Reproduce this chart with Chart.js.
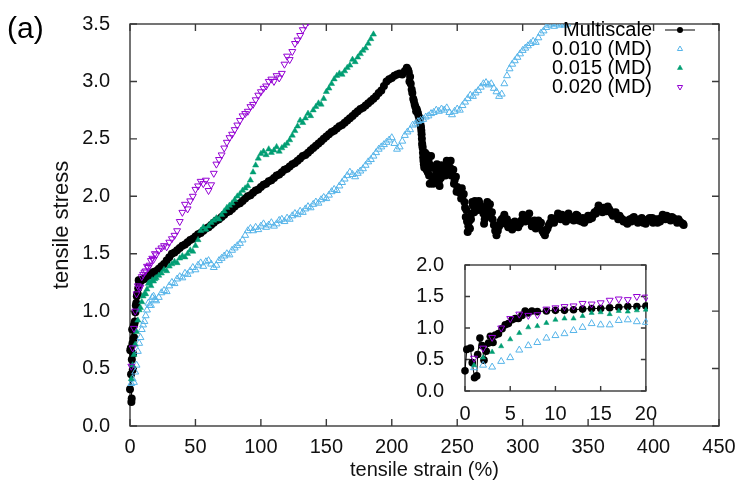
<!DOCTYPE html>
<html>
<head>
<meta charset="utf-8">
<script src="https://cdn.jsdelivr.net/npm/chart.js@4.4.1/dist/chart.umd.min.js"></script>
<style>
  body { margin: 0; background: #fff; }
  #wrap { position: relative; width: 737px; height: 492px; }
  #main { position: absolute; left: 0; top: 0; }
  #inset { position: absolute; left: 400px; top: 240px; }
</style>
</head>
<body>
<div id="wrap">
  <canvas id="main" width="737" height="492"></canvas>
  <canvas id="inset" width="260" height="200"></canvas>
</div>
<script>
// ---- data ----
const seriesLabels = ['Multiscale', '0.010 (MD)', '0.015 (MD)', '0.020 (MD)'];

const mainStrainTicks = [0, 50, 100, 150, 200, 250, 300, 350, 400, 450];
const mainStressTicks = [0, 0.5, 1, 1.5, 2, 2.5, 3, 3.5];
const insetStrainTicks = [0, 5, 10, 15, 20];
const insetStressTicks = [0, 0.5, 1, 1.5, 2];

// multiscale: [strain %, stress]
const multiscale = [
  [0,0.32],[0.2,0.66],[0.6,0.68],[0.8,0.45],[1.05,0.21],[1.3,0.24],[1.4,0.58],[1.65,0.84],[1.9,0.72],[2.1,0.49],
  [2.35,0.63],[2.6,0.76],[2.8,0.87],[3.1,0.77],[3.35,0.89],[3.7,0.91],[4.1,0.99],[4.45,1.05],[4.8,1.07],[5.2,1.13],
  [5.55,1.15],[5.9,1.15],[6.3,1.2],[6.65,1.27],[7,1.24],[7.4,1.27],[8,1.26],[9,1.27],[10,1.28],[11,1.28],
  [12,1.29],[13,1.3],[14,1.31],[15,1.31],[16,1.32],[17,1.33],[18,1.34],[19,1.34],[20,1.35],
  [22,1.37],[24,1.39],[26,1.41],[28,1.44],[30,1.47],[32,1.5],[34,1.51],[36,1.53],[38,1.55],[40,1.57],
  [42,1.58],[44,1.6],[46,1.62],[48,1.63],[50,1.65],[52,1.67],[54,1.68],[56,1.7],[58,1.72],[60,1.73],
  [62,1.75],[64,1.77],[66,1.79],[68,1.8],[70,1.82],[72,1.84],[74,1.86],[76,1.87],[78,1.89],[80,1.91],
  [82,1.93],[84,1.94],[86,1.96],[88,1.98],[90,2],[92,2.01],[94,2.03],[96,2.05],[98,2.06],[100,2.08],
  [102,2.1],[104,2.11],[106,2.13],[108,2.14],[110,2.16],[112,2.18],[114,2.19],[116,2.21],[118,2.23],[120,2.24],
  [122,2.26],[124,2.28],[126,2.29],[128,2.31],[130,2.33],[132,2.35],[134,2.36],[136,2.38],[138,2.4],[140,2.42],
  [142,2.44],[144,2.46],[146,2.48],[148,2.5],[150,2.52],[152,2.54],[154,2.56],[156,2.57],[158,2.59],[160,2.61],
  [162,2.62],[164,2.64],[166,2.66],[168,2.68],[170,2.7],[172,2.72],[174,2.74],[176,2.76],[178,2.77],[180,2.79],
  [182,2.81],[184,2.83],[186,2.85],[188,2.87],[190,2.9],[192,2.92],[194,2.96],[196,3],[198,3.02],[200,3.03],
  [202,3.05],[204,3.06],[206,3.07],[208,3.06],[210,3.09],[211.5,3.12],
  [212.5,3.1],[213,3.08],[213.5,3],[214,3.04],[214.5,2.98],[215.2,2.93],[215.7,2.9],[216.4,2.85],[216.9,2.83],[217.5,2.8],
  [218,2.78],[218.6,2.74],[219,2.76],[219.5,2.74],[220,2.72],[220.5,2.7],[221,2.66],[221.5,2.68],[222,2.62],[222.3,2.6],
  [222.6,2.57],[222.8,2.54],[223,2.5],[223.2,2.46],[223.4,2.44],[223.6,2.42],[223.8,2.38],[224,2.34],[224.2,2.31],[224.5,2.28],
  [224.8,2.25],[225,2.33],[225.5,2.38],[226,2.29],[226.6,2.23],[227,2.36],[227.5,2.21],[228,2.3],[228.5,2.18],[229,2.11],
  [229.5,2.27],[230,2.35],[230.5,2.25],[231,2.16],[231.6,2.11],[232.3,2.14],[233,2.17],[233.5,2.24],[234,2.2],[234.5,2.28],
  [235,2.18],[236,2.13],[236.5,2.09],[237,2.2],[237.5,2.16],[238,2.27],[239,2.23],[240,2.2],[241,2.18],[241.5,2.25],
  [242,2.31],[243,2.27],[243.5,2.22],[244.5,2.25],[245,2.31],[245.5,2.18],[246,2.2],[247,2.23],[247.5,2.11],[248,2.14],
  [249,2.17],[249.5,2.04],[250,2.08],[251,2.06],[252,2.03],[253,1.98],[253.5,2.07],[254,2],[255,2.02],[255.5,1.95],
  [256,1.9],[256.5,1.82],[257,1.88],[257.5,1.78],[258,1.69],[258.5,1.74],[259,1.78],[259.7,1.72],[260.5,1.8],[261,1.85],
  [261.5,1.95],[262,1.92],[263,1.86],[263.5,1.96],[264,1.9],[265,1.93],[266,1.88],[266.5,1.96],[267,1.94],[268,1.91],
  [269,1.88],[270,1.85],[270.5,1.76],[271,1.8],[272,1.85],[272.6,1.92],[273,1.95],[274,1.89],[275,1.93],[275.5,1.82],
  [276.5,1.86],[277,1.8],[278,1.75],[279,1.7],[280,1.66],[281,1.7],[282,1.74],[283,1.78],[284,1.8],[285,1.81],
  [286,1.84],[287,1.76],[288,1.8],[289,1.73],[290,1.77],[291,1.74],[292,1.71],[293,1.76],[294,1.78],[295,1.74],
  [296.6,1.73],[298,1.76],[299,1.79],[300,1.84],[301,1.81],[302,1.78],[303,1.83],[304,1.8],[305,1.85],[306,1.78],
  [307,1.74],[308,1.76],[309,1.79],[310,1.72],[311,1.75],[312,1.79],[313,1.74],[314,1.77],[315,1.7],[316,1.68],
  [317,1.66],[318,1.7],[319,1.72],[320,1.75],[321,1.77],[322,1.81],[323,1.78],[324,1.77],[325,1.8],[326,1.81],
  [327,1.85],[328.5,1.83],[329,1.8],[330,1.84],[331,1.8],[332,1.82],[333,1.78],[334,1.83],[335,1.85],[336,1.8],
  [337,1.82],[338.5,1.81],[339,1.79],[340,1.81],[341,1.84],[342,1.83],[343,1.79],[344,1.8],[345,1.78],[346,1.81],
  [347,1.77],[348,1.79],[349,1.8],[350,1.83],[351,1.8],[352,1.83],[353,1.81],[354,1.84],[355,1.86],[356,1.85],
  [357,1.88],[358,1.92],[359,1.9],[360,1.88],[361,1.86],[362,1.9],[363,1.89],[364,1.87],[365,1.91],[366,1.89],
  [367,1.87],[368,1.85],[369,1.83],[370,1.84],[371,1.86],[372,1.83],[373,1.8],[374,1.83],[375,1.81],[376,1.8],
  [377,1.78],[378,1.79],[379.5,1.77],[380,1.76],[381,1.79],[382,1.8],[383,1.78],[384,1.81],[385,1.82],[386,1.8],
  [387,1.79],[388,1.77],[389.6,1.8],[390,1.78],[391,1.81],[392,1.77],[393,1.79],[394,1.76],[395,1.79],[396,1.8],
  [397,1.81],[398,1.79],[399,1.81],[399.6,1.77],[401,1.78],[402,1.8],[403,1.77],[404,1.8],[405,1.78],[406,1.81],
  [407,1.84],[408,1.82],[409,1.8],[410,1.83],[411,1.82],[412,1.8],[413,1.79],[414,1.82],[415,1.81],[416,1.8],
  [417.6,1.79],[418,1.77],[419,1.8],[420,1.78],[421,1.77],[422.5,1.76],[423,1.75]
];

// strain values shared by the three MD runs
const mdStrain = [
  1,2,3,4,5,6,7,8,9,10,
  11,12,13,14,15,16,17,18,19,20,
  22,24,26,28,30,32,34,36,38,40,
  42,44,46,48,50,52,54,56,58,60,
  62,64,66,68,70,72,74,76,78,80,
  82,84,86,88,90,92,94,96,98,100,
  102,104,106,108,110,112,114,116,118,120,
  122,124,126,128,130,132,134,136,138,140,
  142,144,146,148,150,152,154,156,158,160,
  162,164,166,168,170,172,174,176,178,180,
  182,184,186,188,190,192,194,196,198,200,
  202,204,206,208,210,212,214,216,218,220,
  222,224,226,228,230,232,234,236,238,240,
  242,244,246,248,250,252,254,256,258,260,
  262,264,266,268,270,272,274,276,278,280,
  282,284,286,288,290,292,294,296,298,300,
  302,304,306,308,310,312,314,316,318,320,
  322,324,326,328,330,332,334
];

const md010 = [
  0.37,0.41,0.38,0.47,0.53,0.65,0.72,0.77,0.84,0.88,
  0.91,0.96,1.01,1.07,1.05,1.05,1.12,1.13,1.10,1.09,
  1.12,1.16,1.18,1.17,1.22,1.25,1.24,1.28,1.30,1.29,
  1.33,1.32,1.35,1.38,1.36,1.40,1.42,1.39,1.43,1.44,
  1.41,1.38,1.40,1.44,1.46,1.48,1.50,1.49,1.53,1.55,
  1.57,1.59,1.62,1.66,1.70,1.72,1.70,1.73,1.71,1.74,
  1.76,1.73,1.75,1.77,1.74,1.76,1.79,1.80,1.78,1.81,
  1.80,1.83,1.85,1.84,1.87,1.86,1.89,1.91,1.90,1.93,
  1.95,1.94,1.97,1.99,1.98,2.01,2.04,2.06,2.05,2.09,
  2.12,2.15,2.18,2.21,2.19,2.17,2.20,2.22,2.24,2.27,
  2.30,2.32,2.35,2.38,2.41,2.43,2.45,2.47,2.49,2.51,
  2.46,2.41,2.43,2.48,2.53,2.56,2.58,2.62,2.63,2.65,
  2.66,2.67,2.69,2.70,2.72,2.73,2.75,2.74,2.76,2.75,
  2.77,2.73,2.71,2.74,2.76,2.75,2.79,2.82,2.85,2.88,
  2.87,2.90,2.92,2.95,2.98,2.99,2.97,2.98,2.94,2.91,
  2.87,2.89,2.98,3.05,3.11,3.15,3.18,3.21,3.24,3.27,
  3.29,3.31,3.33,3.35,3.34,3.38,3.42,3.44,3.47,3.49,
  3.50,3.48,3.50,3.49,3.50,3.49,3.50
];

const md015 = [
  0.41,0.53,0.62,0.71,0.82,0.92,1.01,1.03,1.08,1.13,
  1.15,1.15,1.19,1.24,1.25,1.22,1.27,1.26,1.28,1.29,
  1.31,1.33,1.36,1.35,1.39,1.41,1.43,1.42,1.46,1.48,
  1.47,1.50,1.53,1.52,1.57,1.62,1.70,1.73,1.71,1.74,
  1.77,1.79,1.81,1.80,1.84,1.87,1.90,1.92,1.94,1.97,
  2.00,2.02,2.05,2.07,2.09,2.14,2.21,2.27,2.33,2.37,
  2.39,2.36,2.41,2.38,2.40,2.43,2.39,2.42,2.44,2.46,
  2.49,2.53,2.57,2.61,2.66,2.64,2.68,2.72,2.70,2.75,
  2.78,2.81,2.80,2.85,2.91,2.94,2.98,3.02,3.05,3.07,
  3.06,3.09,3.12,3.14,3.19,3.17,3.21,3.24,3.27,3.29,
  3.33,3.37,3.41
];

const md020 = [
  0.52,0.68,0.85,1.00,1.15,1.22,1.20,1.21,1.30,1.32,
  1.34,1.35,1.39,1.38,1.40,1.44,1.46,1.45,1.50,1.49,
  1.53,1.55,1.57,1.56,1.60,1.63,1.66,1.70,1.78,1.86,
  1.93,1.89,1.96,2.00,2.06,2.09,2.13,2.11,2.14,2.05,
  2.10,2.20,2.28,2.32,2.36,2.42,2.47,2.51,2.54,2.58,
  2.62,2.66,2.70,2.72,2.74,2.78,2.80,2.84,2.88,2.91,
  2.94,2.96,3.00,3.02,3.00,3.05,3.03,3.07,3.15,3.22,
  3.19,3.26,3.33,3.36,3.40,3.45,3.49,3.52
];

// ---- chart setup ----
const FONT = '"Liberation Sans", Arial, Helvetica, sans-serif';
Chart.defaults.font.family = FONT;
Chart.defaults.font.size = 20;
Chart.defaults.color = '#111';

const toPoints = (xs, ys) => ys.map((v, i) => ({ x: xs[i], y: v }));

function buildDatasets(r, clip) {
  return [
    {
      label: seriesLabels[0],
      data: multiscale.map(p => ({ x: p[0], y: p[1] })),
      showLine: true,
      borderColor: '#000',
      borderWidth: 1,
      pointStyle: 'circle',
      pointRadius: r.dot,
      pointBackgroundColor: '#000',
      pointBorderColor: '#000',
      pointBorderWidth: 0,
      clip: clip,
      order: 4
    },
    {
      label: seriesLabels[1],
      data: toPoints(mdStrain, md010),
      pointStyle: 'triangle',
      pointRadius: r.tri,
      pointBackgroundColor: 'rgba(0,0,0,0)',
      pointBorderColor: '#56B4E9',
      pointBorderWidth: 1,
      clip: clip,
      order: 3
    },
    {
      label: seriesLabels[2],
      data: toPoints(mdStrain, md015),
      pointStyle: 'triangle',
      pointRadius: r.fill,
      pointBackgroundColor: '#009E73',
      pointBorderColor: '#009E73',
      pointBorderWidth: 0.5,
      clip: clip,
      order: 2
    },
    {
      label: seriesLabels[3],
      data: toPoints(mdStrain, md020),
      pointStyle: 'triangle',
      pointRotation: 180,
      pointRadius: r.tri,
      pointBackgroundColor: 'rgba(0,0,0,0)',
      pointBorderColor: '#9400D3',
      pointBorderWidth: 1,
      clip: clip,
      order: 1
    }
  ];
}

// gnuplot style box with inward ticks on all four sides
const frameTicks = {
  id: 'frameTicks',
  beforeDatasetsDraw(chart, args, opts) {
    const { ctx, chartArea: a } = chart;
    const x = chart.scales.x, y = chart.scales.y;
    ctx.save();
    ctx.strokeStyle = '#3a3a3a';
    ctx.lineWidth = 1.4;
    ctx.beginPath();
    x.ticks.forEach(t => {
      const px = x.getPixelForValue(t.value);
      ctx.moveTo(px, a.bottom); ctx.lineTo(px, a.bottom - opts.len);
      ctx.moveTo(px, a.top); ctx.lineTo(px, a.top + opts.len);
    });
    y.ticks.forEach(t => {
      const py = y.getPixelForValue(t.value);
      ctx.moveTo(a.left, py); ctx.lineTo(a.left + opts.len, py);
      ctx.moveTo(a.right, py); ctx.lineTo(a.right - opts.len, py);
    });
    ctx.stroke();
    ctx.strokeRect(a.left, a.top, a.right - a.left, a.bottom - a.top);
    ctx.restore();
  }
};

// key in the upper right: text right aligned, sample to its right
const keyBox = {
  id: 'keyBox',
  afterDraw(chart, args, opts) {
    if (!opts.show) return;
    const { ctx } = chart;
    ctx.save();
    ctx.font = '20px ' + FONT;
    ctx.textAlign = 'right';
    ctx.textBaseline = 'middle';
    chart.data.datasets.forEach((ds, i) => {
      const yy = opts.top + i * opts.row;
      ctx.fillStyle = '#000';
      ctx.fillText(ds.label, opts.textRight, yy);
      if (ds.showLine) {
        ctx.strokeStyle = ds.borderColor;
        ctx.lineWidth = 1;
        ctx.beginPath();
        ctx.moveTo(opts.markX - 15, yy);
        ctx.lineTo(opts.markX + 15, yy);
        ctx.stroke();
      }
      ctx.fillStyle = ds.pointBackgroundColor;
      ctx.strokeStyle = ds.pointBorderColor;
      ctx.lineWidth = ds.pointBorderWidth || 1;
      Chart.helpers.drawPoint(ctx, {
        pointStyle: ds.pointStyle,
        rotation: ds.pointRotation || 0,
        radius: opts.markR,
        borderWidth: ds.pointBorderWidth
      }, opts.markX, yy);
    });
    ctx.fillStyle = '#000';
    ctx.textAlign = 'left';
    ctx.font = '30px ' + FONT;
    ctx.fillText('(a)', 7, 30);
    ctx.restore();
  }
};

function fixedTicks(values) {
  return scale => { scale.ticks = values.map(v => ({ value: v })); };
}

new Chart(document.getElementById('main'), {
  type: 'scatter',
  data: { datasets: buildDatasets({ dot: 4, tri: 4, fill: 3.5 }, { left: 5, top: 0, right: 5, bottom: 5 }) },
  options: {
    responsive: false,
    animation: false,
    events: [],
    layout: { padding: { left: 0, right: 18, top: 13, bottom: 0 } },
    scales: {
      x: {
        type: 'linear', min: 0, max: 450,
        afterBuildTicks: fixedTicks(mainStrainTicks),
        afterFit: s => { s.height = 66; },
        grid: { display: false },
        border: { display: false },
        ticks: { padding: 1, maxRotation: 0, color: '#111' },
        title: { display: true, text: 'tensile strain (%)', color: '#111', padding: { top: 0, bottom: 10 } }
      },
      y: {
        type: 'linear', min: 0, max: 3.5,
        afterBuildTicks: fixedTicks(mainStressTicks),
        afterFit: s => { s.width = 130; },
        grid: { display: false },
        border: { display: false },
        ticks: { padding: 12, color: '#111', callback: v => v.toFixed(1) },
        title: { display: true, text: 'tensile stress', color: '#111', font: { size: 22 }, padding: { top: 49, bottom: 0 } }
      }
    },
    plugins: {
      legend: { display: false },
      tooltip: { enabled: false },
      frameTicks: { len: 7 },
      keyBox: { show: true, top: 30, row: 19, textRight: 652, markX: 680, markR: 3 }
    }
  },
  plugins: [frameTicks, keyBox]
});

new Chart(document.getElementById('inset'), {
  type: 'scatter',
  data: { datasets: buildDatasets({ dot: 3.8, tri: 4, fill: 3 }, { left: 5, top: 5, right: 2, bottom: 5 }) },
  options: {
    responsive: false,
    animation: false,
    events: [],
    layout: { padding: { left: 0, right: 11, top: 12, bottom: 0 } },
    scales: {
      x: {
        type: 'linear', min: 0, max: 20,
        afterBuildTicks: fixedTicks(insetStrainTicks),
        afterFit: s => { s.height = 49; },
        grid: { display: false },
        border: { display: false },
        ticks: { padding: 3, maxRotation: 0, color: '#111' }
      },
      y: {
        type: 'linear', min: 0, max: 2,
        afterBuildTicks: fixedTicks(insetStressTicks),
        afterFit: s => { s.width = 65; },
        grid: { display: false },
        border: { display: false },
        ticks: { padding: 13, color: '#111', callback: v => v.toFixed(1) }
      }
    },
    plugins: {
      legend: { display: false },
      tooltip: { enabled: false },
      frameTicks: { len: 5 },
      keyBox: { show: false }
    }
  },
  plugins: [frameTicks, keyBox]
});
</script>
</body>
</html>
